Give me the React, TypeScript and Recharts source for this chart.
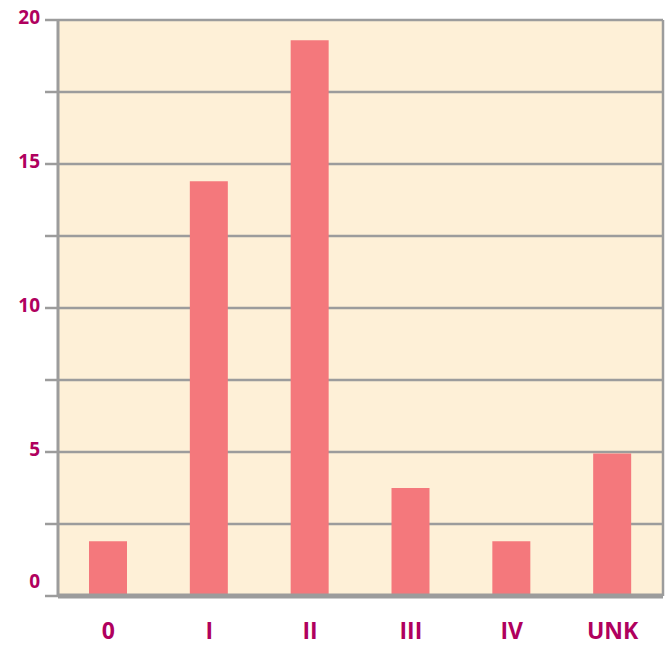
import React from 'react';
import { BarChart, Bar, XAxis, YAxis, CartesianGrid } from 'recharts';

const stages = ['0', 'I', 'II', 'III', 'IV', 'UNK'];
const values = [1.9, 14.4, 19.3, 3.75, 1.9, 4.95];
const yTicks = [0, 2.5, 5, 7.5, 10, 12.5, 15, 17.5, 20];
const yLabels = [0, 5, 10, 15, 20];

const data = stages.map((stage, i) => ({ stage, value: values[i] }));

const labelColor = '#b0005e';
const gridColor = '#9c9c9c';
const font = '"Open Sans", Lato, sans-serif';

const YTick = ({ x, y, payload }: any) => {
  if (!yLabels.includes(payload.value)) return null;
  const dy = payload.value === 0 ? -8 : 4;
  return (
    <text x={x - 3} y={y + dy} textAnchor="end" fill={labelColor}
      fontFamily={font} fontWeight={700} fontSize={19}>
      {payload.value}
    </text>
  );
};

const XTick = ({ x, y, payload }: any) => (
  <text x={x} y={y + 35} textAnchor="middle" fill={labelColor}
    fontFamily={font} fontWeight={700} fontSize={23}>
    {payload.value}
  </text>
);

export default function App() {
  return (
    <div style={{ position: 'absolute', left: 0, top: 0, background: '#fff' }}>
      <BarChart width={670} height={645} data={data}
        margin={{ top: 20, right: 7, left: 0, bottom: 0 }}>
        <CartesianGrid fill="#fef0d7" stroke={gridColor} strokeWidth={2.5}
          vertical={true} verticalPoints={[663]} />
        <XAxis dataKey="stage" tick={<XTick />} tickLine={false}
          axisLine={{ stroke: gridColor, strokeWidth: 5 }} height={49} />
        <YAxis width={58} domain={[0, 20]} ticks={yTicks} interval={0}
          tick={<YTick />} tickSize={13}
          tickLine={{ stroke: gridColor, strokeWidth: 2.5 }}
          axisLine={{ stroke: gridColor, strokeWidth: 3 }} />
        <Bar dataKey="value" fill="#f4787c" barSize={38} isAnimationActive={false} />
      </BarChart>
    </div>
  );
}
